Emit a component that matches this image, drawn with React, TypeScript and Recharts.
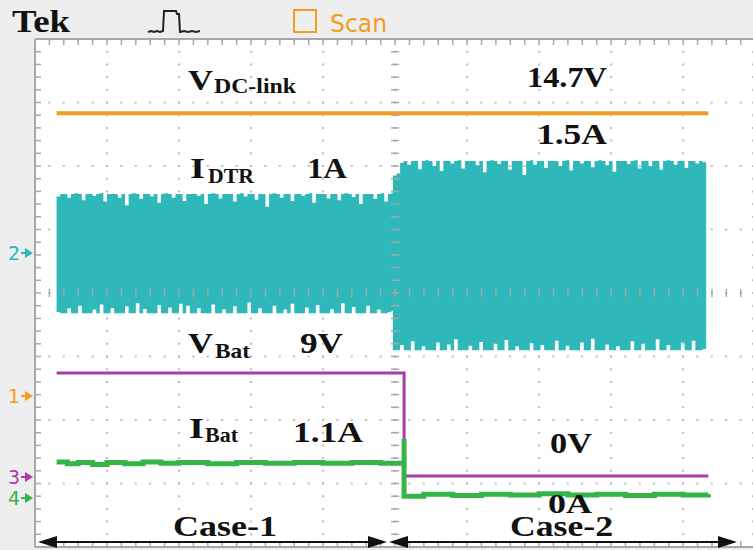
import {
  ComposedChart,
  XAxis,
  YAxis,
  CartesianGrid,
  Area,
  Line,
  Scatter,
  ReferenceLine,
} from 'recharts'

// scope screen in divisions: 10 wide x 8 high, capture cuts the right edge at ~9.97
const X_MAX = 9.97
const majorX = [0, 1, 2, 3, 4, 5, 6, 7, 8, 9]
const majorY = [0, 1, 2, 3, 4, 5, 6, 7, 8]
const minorX = Array.from({ length: 50 }, (_, i) => +(i * 0.2).toFixed(1))
const minorY = Array.from({ length: 41 }, (_, i) => +(i * 0.2).toFixed(1))

// I_DTR envelope (div), one sample every 0.05 div
const SAMPLE = 0.05
const dtrStart1 = 0.3
const dtrTop1 = [
  5.52, 5.56, 5.56, 5.5, 5.56, 5.57, 5.56, 5.46, 5.56, 5.56, 5.53, 5.56, 5.57, 5.44, 5.56, 5.56,
  5.56, 5.5, 5.56, 5.38, 5.56, 5.57, 5.56, 5.48, 5.56, 5.56, 5.52, 5.56, 5.42, 5.56, 5.57, 5.56,
  5.5, 5.56, 5.56, 5.45, 5.56, 5.56, 5.56, 5.53, 5.56, 5.4, 5.56, 5.57, 5.56, 5.49, 5.56, 5.56,
  5.56, 5.44, 5.56, 5.57, 5.52, 5.56, 5.56, 5.47, 5.56, 5.56, 5.36, 5.56, 5.57, 5.56, 5.5, 5.56,
  5.56, 5.45, 5.56, 5.56, 5.53, 5.56, 5.57, 5.42, 5.56, 5.56, 5.56, 5.49, 5.56, 5.56, 5.46, 5.56,
  5.57, 5.56, 5.51, 5.56, 5.4, 5.56, 5.56, 5.56, 5.48, 5.56, 5.57, 5.44, 5.56, 5.58,
]
const dtrBot1 = [
  3.7, 3.68, 3.68, 3.76, 3.68, 3.68, 3.8, 3.68, 3.68, 3.68, 3.74, 3.68, 3.82, 3.68, 3.68, 3.76,
  3.68, 3.68, 3.68, 3.79, 3.68, 3.68, 3.84, 3.68, 3.75, 3.68, 3.68, 3.68, 3.81, 3.68, 3.68, 3.77,
  3.68, 3.68, 3.83, 3.68, 3.8, 3.68, 3.68, 3.76, 3.68, 3.68, 3.68, 3.82, 3.68, 3.68, 3.74, 3.68,
  3.68, 3.79, 3.68, 3.68, 3.68, 3.85, 3.68, 3.68, 3.76, 3.68, 3.68, 3.68, 3.8, 3.68, 3.68, 3.74,
  3.68, 3.83, 3.68, 3.68, 3.68, 3.77, 3.68, 3.68, 3.81, 3.68, 3.68, 3.68, 3.75, 3.68, 3.68, 3.84,
  3.68, 3.68, 3.78, 3.68, 3.68, 3.68, 3.8, 3.68, 3.68, 3.74, 3.68, 3.68, 3.7, 3.72,
]
const dtrStart2 = 4.97
const dtrTop2 = [
  5.85, 5.88, 6.05, 6.08, 6.02, 6.08, 6.08, 5.95, 6.08, 6.09, 6.08, 6.0, 6.08, 5.92, 6.08, 6.08,
  6.04, 6.08, 6.09, 5.96, 6.08, 6.08, 6.08, 6.01, 6.08, 5.9, 6.08, 6.09, 6.08, 6.03, 6.08, 6.08,
  5.94, 6.08, 6.08, 6.08, 5.86, 6.08, 6.09, 6.02, 6.08, 6.08, 5.97, 6.08, 6.08, 6.08, 6.0, 6.08,
  6.09, 5.93, 6.08, 6.08, 6.04, 6.08, 6.08, 5.98, 6.08, 6.09, 6.08, 6.01, 6.08, 5.91, 6.08, 6.08,
  6.08, 6.03, 6.08, 6.09, 5.96, 6.08, 6.08, 6.0, 6.08, 6.08, 5.94, 6.08, 6.09, 6.08, 6.02, 6.08,
  6.08, 5.97, 6.08, 6.08, 6.04, 6.08, 6.06, 6.02,
]
const dtrBot2 = [
  3.1, 3.1, 3.18, 3.1, 3.1, 3.24, 3.1, 3.1, 3.16, 3.1, 3.1, 3.1, 3.22, 3.1, 3.1, 3.19,
  3.1, 3.27, 3.1, 3.1, 3.1, 3.17, 3.1, 3.1, 3.23, 3.1, 3.1, 3.1, 3.2, 3.1, 3.1, 3.26,
  3.1, 3.1, 3.16, 3.1, 3.1, 3.1, 3.21, 3.1, 3.1, 3.18, 3.1, 3.1, 3.1, 3.25, 3.1, 3.1,
  3.17, 3.1, 3.1, 3.1, 3.22, 3.1, 3.1, 3.28, 3.1, 3.1, 3.1, 3.19, 3.1, 3.1, 3.16, 3.1,
  3.1, 3.1, 3.24, 3.1, 3.1, 3.2, 3.1, 3.1, 3.1, 3.27, 3.1, 3.1, 3.18, 3.1, 3.1, 3.1,
  3.22, 3.1, 3.1, 3.25, 3.1, 3.1, 3.12, 3.14,
]

// V_DC-link (ch1)
const vdcX = [0.3, 9.35]
const vdcY = [6.83, 6.83]

// V_Bat (ch3)
const vbatX = [0.3, 5.125, 5.125, 9.35]
const vbatY = [2.74, 2.74, 1.12, 1.12]

// I_Bat (ch4)
const ibatX = [
  0.3, 0.45, 0.6, 0.8, 1.0, 1.25, 1.5, 1.75, 2.0, 2.4, 2.8, 3.2, 3.6, 4.0, 4.4, 4.8,
  5.125, 5.125, 5.125, 5.4, 5.8, 6.2, 6.6, 7.0, 7.4, 7.8, 8.2, 8.6, 9.0, 9.35,
]
const ibatY = [
  1.34, 1.31, 1.33, 1.3, 1.33, 1.31, 1.34, 1.32, 1.33, 1.31, 1.33, 1.32, 1.33, 1.32, 1.33, 1.32,
  1.32, 1.7, 0.8, 0.83, 0.81, 0.83, 0.82, 0.84, 0.82, 0.83, 0.81, 0.83, 0.82, 0.83,
]

const ORANGE = '#f39c1f'
const CYAN = '#2eb8ba'
const PURPLE = '#a63ca9'
const GREEN = '#35b44a'
const RULER = '#a8a8a8'
const DOTS = '#bdbdbd'
const SERIF = '"Liberation Serif", "Times New Roman", serif'

const toBand = (start: number, top: number[], bot: number[]) =>
  top.slice(0, Math.min(top.length, bot.length)).map((t, i) => ({
    x: +(start + i * SAMPLE).toFixed(3),
    band: [bot[i], t],
  }))

const dtrData = [...toBand(dtrStart1, dtrTop1, dtrBot1), ...toBand(dtrStart2, dtrTop2, dtrBot2)]
const vdcData = vdcX.map((x, i) => ({ x, y: vdcY[i] }))
const vbatData = vbatX.map((x, i) => ({ x, y: vbatY[i] }))
const ibatData = ibatX.map((x, i) => ({ x, y: ibatY[i] }))

const inX = minorX.filter(x => x <= X_MAX)
const topTicks = inX.map(x => ({ x, y: 8 }))
const bottomTicks = inX.map(x => ({ x, y: 0 }))
const leftTicks = minorY.map(y => ({ x: 0, y }))
const centerVTicks = minorY.map(y => ({ x: 5, y }))
const centerHTicks = inX.map(x => ({ x, y: 4 }))

const tickShape = (x1: number, y1: number, x2: number, y2: number) => (p: any) => (
  <line x1={p.cx + x1} y1={p.cy + y1} x2={p.cx + x2} y2={p.cy + y2} stroke={RULER} strokeWidth={1.5} />
)

interface LabelProps {
  x: number
  y: number
  text: string
  size: number
  len: number
}

function Bold({ x, y, text, size, len }: LabelProps) {
  return (
    <text x={x} y={y} fontFamily={SERIF} fontWeight={700} fontSize={size} fill="#111"
      textLength={len} lengthAdjust="spacingAndGlyphs">
      {text}
    </text>
  )
}

function ChannelMark({ y, n, color }: { y: number; n: string; color: string }) {
  return (
    <g>
      <text x={8} y={y + 7} fontFamily='"DejaVu Sans", sans-serif' fontSize={19} fill={color}>{n}</text>
      <line x1={21} y1={y} x2={27} y2={y} stroke={color} strokeWidth={2} />
      <polygon points={`${25},${y - 5} ${33},${y} ${25},${y + 5}`} fill={color} />
    </g>
  )
}

function Arrow({ x1, x2, y }: { x1: number; x2: number; y: number }) {
  return (
    <g>
      <line x1={x1 + 10} y1={y} x2={x2 - 10} y2={y} stroke="#111" strokeWidth={2} />
      <polygon points={`${x1},${y} ${x1 + 19},${y - 6} ${x1 + 19},${y + 6}`} fill="#111" />
      <polygon points={`${x2},${y} ${x2 - 19},${y - 6} ${x2 - 19},${y + 6}`} fill="#111" />
    </g>
  )
}

export default function App() {
  return (
    <div style={{ position: 'absolute', left: 0, top: 0, width: 753, height: 550, background: '#eeeeee', overflow: 'hidden' }}>
      <ComposedChart width={753} height={550} margin={{ top: 39, right: 0, bottom: 3, left: 35 }}>
        <XAxis dataKey="x" type="number" domain={[0, X_MAX]} ticks={majorX} hide allowDataOverflow />
        <YAxis dataKey="y" type="number" domain={[0, 8]} ticks={majorY} hide allowDataOverflow />
        <CartesianGrid vertical={false} stroke={DOTS} strokeWidth={2} strokeDasharray="2 12.4" strokeDashoffset={1} fill="#ffffff" />
        <CartesianGrid horizontal={false} stroke={DOTS} strokeWidth={2} strokeDasharray="2 10.7" strokeDashoffset={1} />

        <Scatter data={topTicks} shape={tickShape(0, 0, 0, 6)} isAnimationActive={false} />
        <Scatter data={bottomTicks} shape={tickShape(0, -6, 0, 0)} isAnimationActive={false} />
        <Scatter data={leftTicks} shape={tickShape(0, 0, 6, 0)} isAnimationActive={false} />
        <Scatter data={centerVTicks} shape={tickShape(-4, 0, 4, 0)} isAnimationActive={false} />
        <Scatter data={centerHTicks} shape={tickShape(0, -4, 0, 4)} isAnimationActive={false} />

        <ReferenceLine x={0} stroke={RULER} strokeWidth={2} />
        <ReferenceLine y={8} stroke={RULER} strokeWidth={2} />
        <ReferenceLine y={0} stroke={RULER} strokeWidth={2} />

        <Area data={dtrData} dataKey="band" type="stepAfter" stroke="none" fill={CYAN} fillOpacity={1}
          dot={false} activeDot={false} isAnimationActive={false} />
        <Line data={vdcData} dataKey="y" type="linear" stroke={ORANGE} strokeWidth={4}
          dot={false} activeDot={false} isAnimationActive={false} />
        <Line data={vbatData} dataKey="y" type="linear" stroke={PURPLE} strokeWidth={3}
          dot={false} activeDot={false} isAnimationActive={false} />
        <Line data={ibatData} dataKey="y" type="stepAfter" stroke={GREEN} strokeWidth={5}
          dot={false} activeDot={false} isAnimationActive={false} />
      </ComposedChart>

      <svg width={753} height={550} style={{ position: 'absolute', left: 0, top: 0, pointerEvents: 'none' }}>
        {/* header */}
        <text x={12} y={32} fontFamily={SERIF} fontWeight={700} fontSize={32} fill="#111"
          textLength={58} lengthAdjust="spacingAndGlyphs">Tek</text>
        <path d="M148,32 L151,31 L154,32 L157,31 L160,32 L163,31 L164,11 L176,11 L177,14 L179,14 L180,32 L184,31 L188,32 L192,31 L196,32 L200,31"
          fill="none" stroke="#222" strokeWidth={2} />
        <rect x={294} y={10} width={22} height={22} fill="none" stroke={ORANGE} strokeWidth={2} />
        <text x={330} y={32} fontFamily='"DejaVu Sans", sans-serif' fontSize={25} fill={ORANGE}
          textLength={57} lengthAdjust="spacingAndGlyphs">Scan</text>

        {/* channel ground markers */}
        <ChannelMark y={253} n="2" color={CYAN} />
        <ChannelMark y={396} n="1" color={ORANGE} />
        <ChannelMark y={477} n="3" color={PURPLE} />
        <ChannelMark y={498} n="4" color={GREEN} />

        {/* annotations */}
        <Bold x={188} y={90} text="V" size={30} len={25} />
        <Bold x={214} y={93} text="DC-link" size={21} len={82} />
        <Bold x={527} y={87} text="14.7V" size={29} len={80} />
        <Bold x={537} y={144} text="1.5A" size={29} len={70} />
        <Bold x={190} y={178} text="I" size={30} len={15} />
        <Bold x={208} y={183} text="DTR" size={21} len={46} />
        <Bold x={307} y={178} text="1A" size={29} len={40} />
        <Bold x={188} y={353} text="V" size={30} len={25} />
        <Bold x={215} y={358} text="Bat" size={21} len={35} />
        <Bold x={300} y={353} text="9V" size={29} len={43} />
        <Bold x={189} y={438} text="I" size={30} len={15} />
        <Bold x={205} y={442} text="Bat" size={21} len={33} />
        <Bold x={293} y={442} text="1.1A" size={29} len={70} />
        <Bold x={550} y={453} text="0V" size={29} len={42} />
        <Bold x={548} y={513} text="0A" size={28} len={44} />
        <Bold x={173} y={536} text="Case-1" size={29} len={104} />
        <Bold x={510} y={536} text="Case-2" size={29} len={103} />

        <Arrow x1={38} x2={387} y={542} />
        <Arrow x1={389} x2={737} y={542} />
      </svg>
    </div>
  )
}
